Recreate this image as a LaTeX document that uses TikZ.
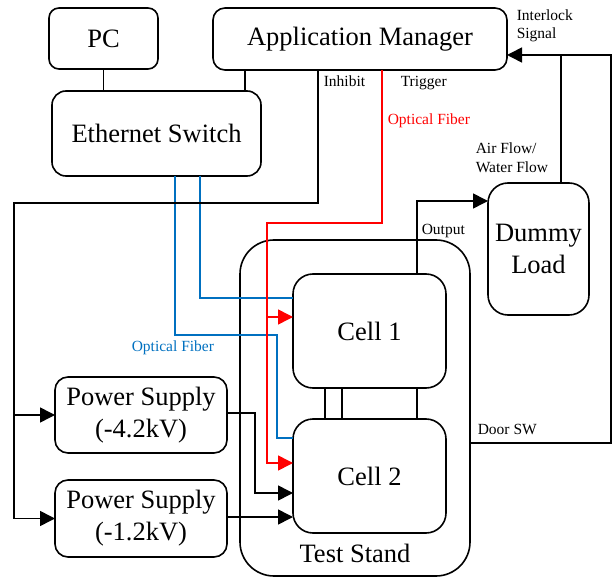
\documentclass[tikz,border=0pt]{standalone}
\usepackage{fontspec}
\setmainfont{Liberation Serif}
\usetikzlibrary{arrows.meta}
\definecolor{fiberblue}{RGB}{0,112,192}
\definecolor{fiberred}{RGB}{255,0,0}
\begin{document}
\begin{tikzpicture}[x=1pt,y=-1pt,
  line width=1.6pt,
  big/.style={font=\fontsize{26.5}{32}\selectfont},
  small/.style={font=\fontsize{15.5}{18.5}\selectfont, inner sep=0pt, anchor=base west},
  blk/.style={draw, rounded corners=#1, inner sep=0pt, outer sep=0pt, align=center, big},
  blk/.default=11pt,
  arr/.style={-{Triangle[length=15pt,width=15pt]}},
  wire/.style={line join=miter},
]
\useasboundingbox (0,0) rectangle (613,577);

% blocks
\node[blk=10pt, minimum width=109pt, minimum height=61pt] (pc) at (103.5,38.5) {PC};
\node[blk=12pt, minimum width=294pt, minimum height=62pt] (am) at (360,39) {Application Manager};
\node[blk=14pt, minimum width=209pt, minimum height=85pt] (es) at (156.5,133.5) {Ethernet Switch};
\node[blk=34pt, minimum width=230pt, minimum height=336pt] (ts) at (355,408) {};
\node[big, inner sep=0pt, anchor=base] (tslabel) at (355,562) {Test Stand};
\node[blk=20pt, minimum width=153pt, minimum height=114pt] (c1) at (369.5,331) {Cell 1};
\node[blk=20pt, minimum width=153pt, minimum height=114pt] (c2) at (369.5,476) {Cell 2};
\node[blk=20pt, minimum width=101pt, minimum height=132pt] (dl) at (538.5,249) {Dummy\\Load};
\node[blk=13pt, minimum width=172pt, minimum height=76pt] (ps1) at (141,415) {Power Supply\\(-4.2kV)};
\node[blk=13pt, minimum width=172pt, minimum height=77pt] (ps2) at (141,518.5) {Power Supply\\(-1.2kV)};

% network links
\draw (pc.south) -- (pc.south |- es.north);
\draw (245,0 |- am.south) -- (245,0 |- es.north);

% blue optical fibers from the switch
\draw[fiberblue, wire] (175,0 |- es.south) -- (175,335) -- (277,335) -- (277,438) -- (c2.west |- 0,438);
\draw[fiberblue, wire] (200,0 |- es.south) -- (200,298) -- (c1.west |- 0,298);

% red trigger fiber
\draw[fiberred, wire, arr] (382,0 |- am.south) -- (382,223) -- (267,223) -- (267,463) -- (c2.west |- 0,463);
\draw[fiberred, arr] (267,317) -- (c1.west |- 0,317);

% inhibit to both power supplies
\draw[wire, arr] (318,0 |- am.south) -- (318,203) -- (14,203) -- (14,0 |- ps2.west) -- (ps2.west);
\draw[arr] (14,0 |- ps1.west) -- (ps1.west);

% power supply outputs
\draw[wire, arr] (ps1.east |- 0,413) -- (255,413) -- (255,493) -- (c2.west |- 0,493);
\draw[arr] (ps2.east |- 0,517) -- (c2.west |- 0,517);

% links between cells
\foreach \xx in {325,342,417}
  \draw (\xx,0 |- c1.south) -- (\xx,0 |- c2.north);

% output to dummy load
\draw[wire, arr] (417,0 |- c1.north) -- (417,201) -- (dl.west |- 0,201);

% interlock loop
\draw (561,0 |- dl.north) -- (561,55);
\draw[wire, arr] (ts.east |- 0,443) -- (611,443) -- (611,55) -- (am.east |- 0,55);

% labels
\node[small] (linh) at (323,87) {Inhibit};
\node[small] (ltrig) at (400,87) {Trigger};
\node[small, text=fiberred] (lfr) at (387,125) {Optical Fiber};
\node[small, text=fiberblue] (lfb) at (131,351) {Optical Fiber};
\node[small] (lint1) at (516,21) {Interlock};
\node[small] (lint2) at (516,39) {Signal};
\node[small] (lair1) at (475,154) {Air Flow/};
\node[small] (lair2) at (475,173) {Water Flow};
\node[small] (lout) at (421,235) {Output};
\node[small] (ldoor) at (477,434) {Door SW};
\end{tikzpicture}
\end{document}
